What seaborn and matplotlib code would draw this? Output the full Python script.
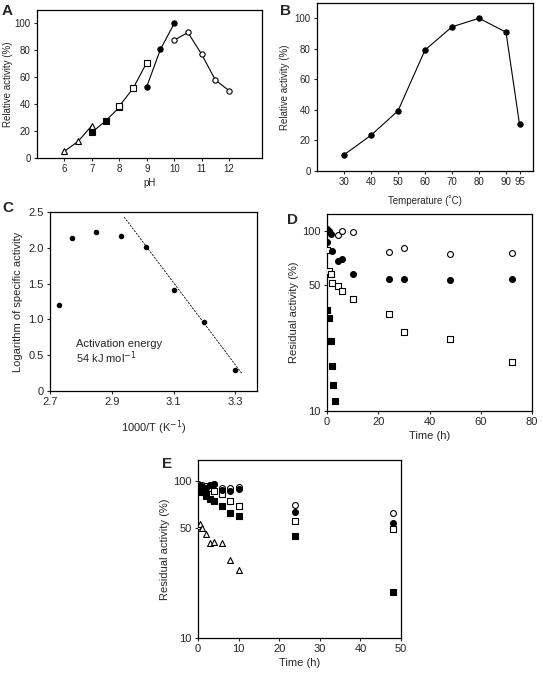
import matplotlib
matplotlib.use('Agg')
import matplotlib.pyplot as plt
import seaborn as sns
from matplotlib.ticker import FixedLocator, NullLocator, FuncFormatter

# ---- A: pH profile (one list per buffer) ----
ph_tri = [6, 6.5, 7]
act_tri = [5, 12.4, 24.1]
ph_fsq = [7, 7.5, 8]
act_fsq = [19, 27.6, 37.6]
ph_osq = [8, 8.5, 9]
act_osq = [38.6, 51.7, 70.9]
ph_fci = [9, 9.5, 10]
act_fci = [53, 80.8, 100]
ph_oci = [10, 10.5, 11, 11.5, 12]
act_oci = [87.6, 93.3, 77.1, 58, 50]

# ---- B: temperature profile ----
temp_b = [30, 40, 50, 60, 70, 80, 90, 95]
act_b = [10.6, 23.4, 39.4, 79.2, 94.4, 100, 90.9, 30.7]

# ---- C: Arrhenius plot ----
inv_t = [2.73, 2.77, 2.85, 2.93, 3.01, 3.10, 3.20, 3.30]
log_act = [1.2, 2.14, 2.22, 2.16, 2.01, 1.41, 0.97, 0.29]
fit_x = [2.94, 3.32]
fit_y = [2.43, 0.25]

# ---- D: thermostability ----
d_oci_t = [4.2, 6.0, 10, 24, 30, 48, 72]
d_oci_v = [95, 100, 99, 76, 80, 74.5, 75]
d_fci_t = [0, 0.6, 1.4, 0.1, 1.8, 4.2, 6.0, 10, 24, 30, 48, 72]
d_fci_v = [102, 100, 96, 87, 77, 68, 70, 57.4, 54, 54, 53.5, 54]
d_osq_t = [0, 0.7, 1.4, 2.1, 4.2, 6.0, 10, 24, 30, 48, 72]
d_osq_v = [78, 60, 57.7, 51.2, 49.5, 46.5, 42, 34.4, 27.6, 25.2, 18.7]
d_fsq_t = [0, 0.7, 1.0, 1.4, 1.8, 2.5, 3.1]
d_fsq_v = [36.4, 33, 24.5, 24.5, 17.7, 13.9, 11.4]

# ---- E: stability time course ----
e_t = [0, 0.5, 1, 2, 3, 4, 6, 8, 10, 24, 48]
e_oci = [95, 94, 93, 92, 93, 95, 89, 90, 90.5, 70, 62]
e_fci = [92, 93, 91, 90, 94, 95, 87, 86, 88, 63, 54]
e_osq = [90, 91, 90, 88, 89, 86, 82.4, 74.6, 68.4, 55, 49]
e_fsq = [88, 86, 84, 80, 76.2, 73.6, 69.2, 62.6, 59.2, 44.6, 19.6]
e_tri_t = [0, 0.5, 1, 2, 3, 4, 6, 8, 10]
e_tri = [51.5, 53, 49.6, 45.7, 40.4, 41, 40.4, 31.3, 27]

sns.set_style('ticks')
plt.rcParams['font.family'] = ['Liberation Sans', 'DejaVu Sans']
plt.rcParams['axes.linewidth'] = 0.9
plt.rcParams['xtick.major.size'] = 2.5
plt.rcParams['ytick.major.size'] = 2.5
plt.rcParams['xtick.major.width'] = 0.8
plt.rcParams['ytick.major.width'] = 0.8

fig = plt.figure(figsize=(5.43, 6.77), dpi=100)
W, H = 543, 677
FS_AB = 7
FS = 8


def add_ax(x0, y0, x1, y1):
    return fig.add_axes([x0 / W, 1 - y1 / H, (x1 - x0) / W, (y1 - y0) / H])


def box(ax):
    for s in ax.spines.values():
        s.set_visible(True)
        s.set_color('black')


def line(ax, x, y, marker, filled, ms=3.8):
    sns.lineplot(x=x, y=y, ax=ax, color='black', lw=0.8, marker=marker,
                 markersize=ms, markerfacecolor='black' if filled else 'white',
                 markeredgecolor='black', markeredgewidth=0.8)


def dots(ax, x, y, marker, filled, s=18, z=3):
    sns.scatterplot(x=x, y=y, ax=ax, marker=marker, s=s,
                    color='black' if filled else 'white',
                    edgecolor='black', linewidth=0.8, zorder=z)


# A
axA = add_ax(37, 10, 262, 158)
line(axA, ph_tri, act_tri, '^', False)
line(axA, ph_fsq, act_fsq, 's', True)
line(axA, ph_osq, act_osq, 's', False)
line(axA, ph_fci, act_fci, 'o', True)
line(axA, ph_oci, act_oci, 'o', False)
axA.set_xlim(5, 13.2)
axA.set_ylim(0, 110)
axA.set_xticks(range(6, 13))
axA.set_yticks(range(0, 101, 20))
axA.set_xlabel('pH', fontsize=FS_AB, labelpad=3)
axA.set_ylabel('Relative activity (%)', fontsize=FS_AB, labelpad=1)
axA.tick_params(labelsize=FS_AB, pad=2)
box(axA)

# B
axB = add_ax(317, 3, 533, 171)
line(axB, temp_b, act_b, 'o', True)
axB.set_xlim(20, 100)
axB.set_ylim(0, 110)
axB.set_xticks(temp_b)
axB.set_yticks(range(0, 101, 20))
axB.set_xlabel('Temperature (˚C)', fontsize=FS_AB, labelpad=6)
axB.set_ylabel('Relative activity (%)', fontsize=FS_AB, labelpad=3)
axB.tick_params(labelsize=FS_AB, pad=2)
box(axB)

# C
axC = add_ax(50, 212, 257, 391)
dots(axC, inv_t, log_act, 'o', True, s=10)
sns.lineplot(x=fit_x, y=fit_y, ax=axC, color='black', lw=0.6, linestyle=(0, (2.5, 1.5)))
axC.set_xlim(2.7, 3.37)
axC.set_ylim(0, 2.5)
axC.set_xticks([2.7, 2.9, 3.1, 3.3])
axC.set_xticklabels(['2.7', '2.9', '3.1', '3.3'])
axC.set_yticks([0, 0.5, 1.0, 1.5, 2.0, 2.5])
axC.set_yticklabels(['0', '0.5', '1.0', '1.5', '2.0', '2.5'])
axC.text(2.785, 0.66, 'Activation energy', fontsize=FS, va='center')
axC.text(2.785, 0.46, '54 kJ mol$^{-1}$', fontsize=FS, va='center')
axC.set_xlabel('1000/T (K$^{-1}$)', fontsize=FS, labelpad=8)
axC.set_ylabel('Logarithm of specific activity', fontsize=FS, labelpad=4)
axC.tick_params(labelsize=FS, pad=2)
box(axC)


def log_axis(ax, top):
    ax.set_yscale('log')
    ax.set_ylim(10, top)
    ax.yaxis.set_major_locator(FixedLocator([10, 50, 100]))
    ax.yaxis.set_minor_locator(NullLocator())
    ax.yaxis.set_major_formatter(FuncFormatter(lambda v, p: '%d' % v))


# D
axD = add_ax(327, 214, 532, 411)
dots(axD, d_oci_t, d_oci_v, 'o', False)
dots(axD, d_osq_t, d_osq_v, 's', False)
dots(axD, d_fsq_t, d_fsq_v, 's', True)
dots(axD, d_fci_t, d_fci_v, 'o', True, z=4)
axD.set_xlim(0, 80)
log_axis(axD, 124)
axD.set_xticks(range(0, 81, 20))
axD.set_xlabel('Time (h)', fontsize=FS, labelpad=3)
axD.set_ylabel('Residual activity (%)', fontsize=FS, labelpad=2)
axD.tick_params(labelsize=FS, pad=2)
box(axD)

# E
axE = add_ax(198, 460, 401, 638)
dots(axE, e_t, e_oci, 'o', False)
dots(axE, e_t, e_osq, 's', False)
dots(axE, e_t, e_fci, 'o', True, z=4)
dots(axE, e_t, e_fsq, 's', True, z=4)
dots(axE, e_tri_t, e_tri, '^', False)
axE.set_xlim(0, 50)
log_axis(axE, 135)
axE.set_xticks(range(0, 51, 10))
axE.set_xlabel('Time (h)', fontsize=FS, labelpad=3)
axE.set_ylabel('Residual activity (%)', fontsize=FS, labelpad=2)
axE.tick_params(labelsize=FS, pad=2)
box(axE)

for lab, px, py in [('A', 2, 15), ('B', 280, 15), ('C', 2, 212), ('D', 287, 224), ('E', 162, 468)]:
    fig.text(px / W, 1 - py / H, lab, fontsize=11, fontweight='bold', va='baseline')

fig.savefig('out.png', dpi=100, facecolor='white')
plt.close(fig)
